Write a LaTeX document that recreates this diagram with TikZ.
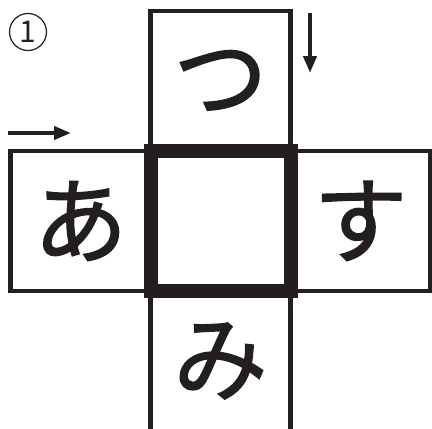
\documentclass[tikz,border=0pt]{standalone}
\usepackage{fontspec}
\usetikzlibrary{positioning,arrows.meta}
\newfontfamily\kana{Noto Sans CJK JP}
\newfontfamily\kanafett[FakeBold=1.6]{Noto Sans CJK JP}
\definecolor{tinte}{HTML}{231F20}

\begin{document}
\begin{tikzpicture}[x=1pt,y=-1pt,
    feld/.style={draw=tinte, line width=4.5pt, minimum size=140pt, inner sep=0pt, outer sep=0pt,
      text=tinte, font=\kanafett\fontsize{94}{94}\selectfont},
    mittelfeld/.style={draw=tinte, line width=14pt, minimum size=140pt, inner sep=0pt, outer sep=0pt},
    pfeil/.style={draw=tinte, line width=4pt, -{Triangle[length=17pt,width=13pt]}}]
\useasboundingbox (0,0) rectangle (432,429);

% Number
\node[draw=tinte, circle, line width=1.2pt, minimum size=37pt, inner sep=0pt,
  text=tinte, font=\kana\fontsize{30}{30}\selectfont] (nummer) at (28,32) {1};

% Cross of squares
\node[mittelfeld] (mitte) at (220.5,221) {};
\node[feld, above=0pt of mitte] (tsu) {つ};
\node[feld, left=0pt of mitte] (a) {あ};
\node[feld, right=0pt of mitte] (su) {す};
\node[feld, below=0pt of mitte] (mi) {み};

% Reading directions
\coordinate (links-start) at (8,133);
\coordinate (links-ende) at (71,133);
\draw[pfeil] (links-start) -- (links-ende);
\coordinate (oben-start) at (310,13);
\coordinate (oben-ende) at (310,73);
\draw[pfeil] (oben-start) -- (oben-ende);
\end{tikzpicture}
\end{document}
